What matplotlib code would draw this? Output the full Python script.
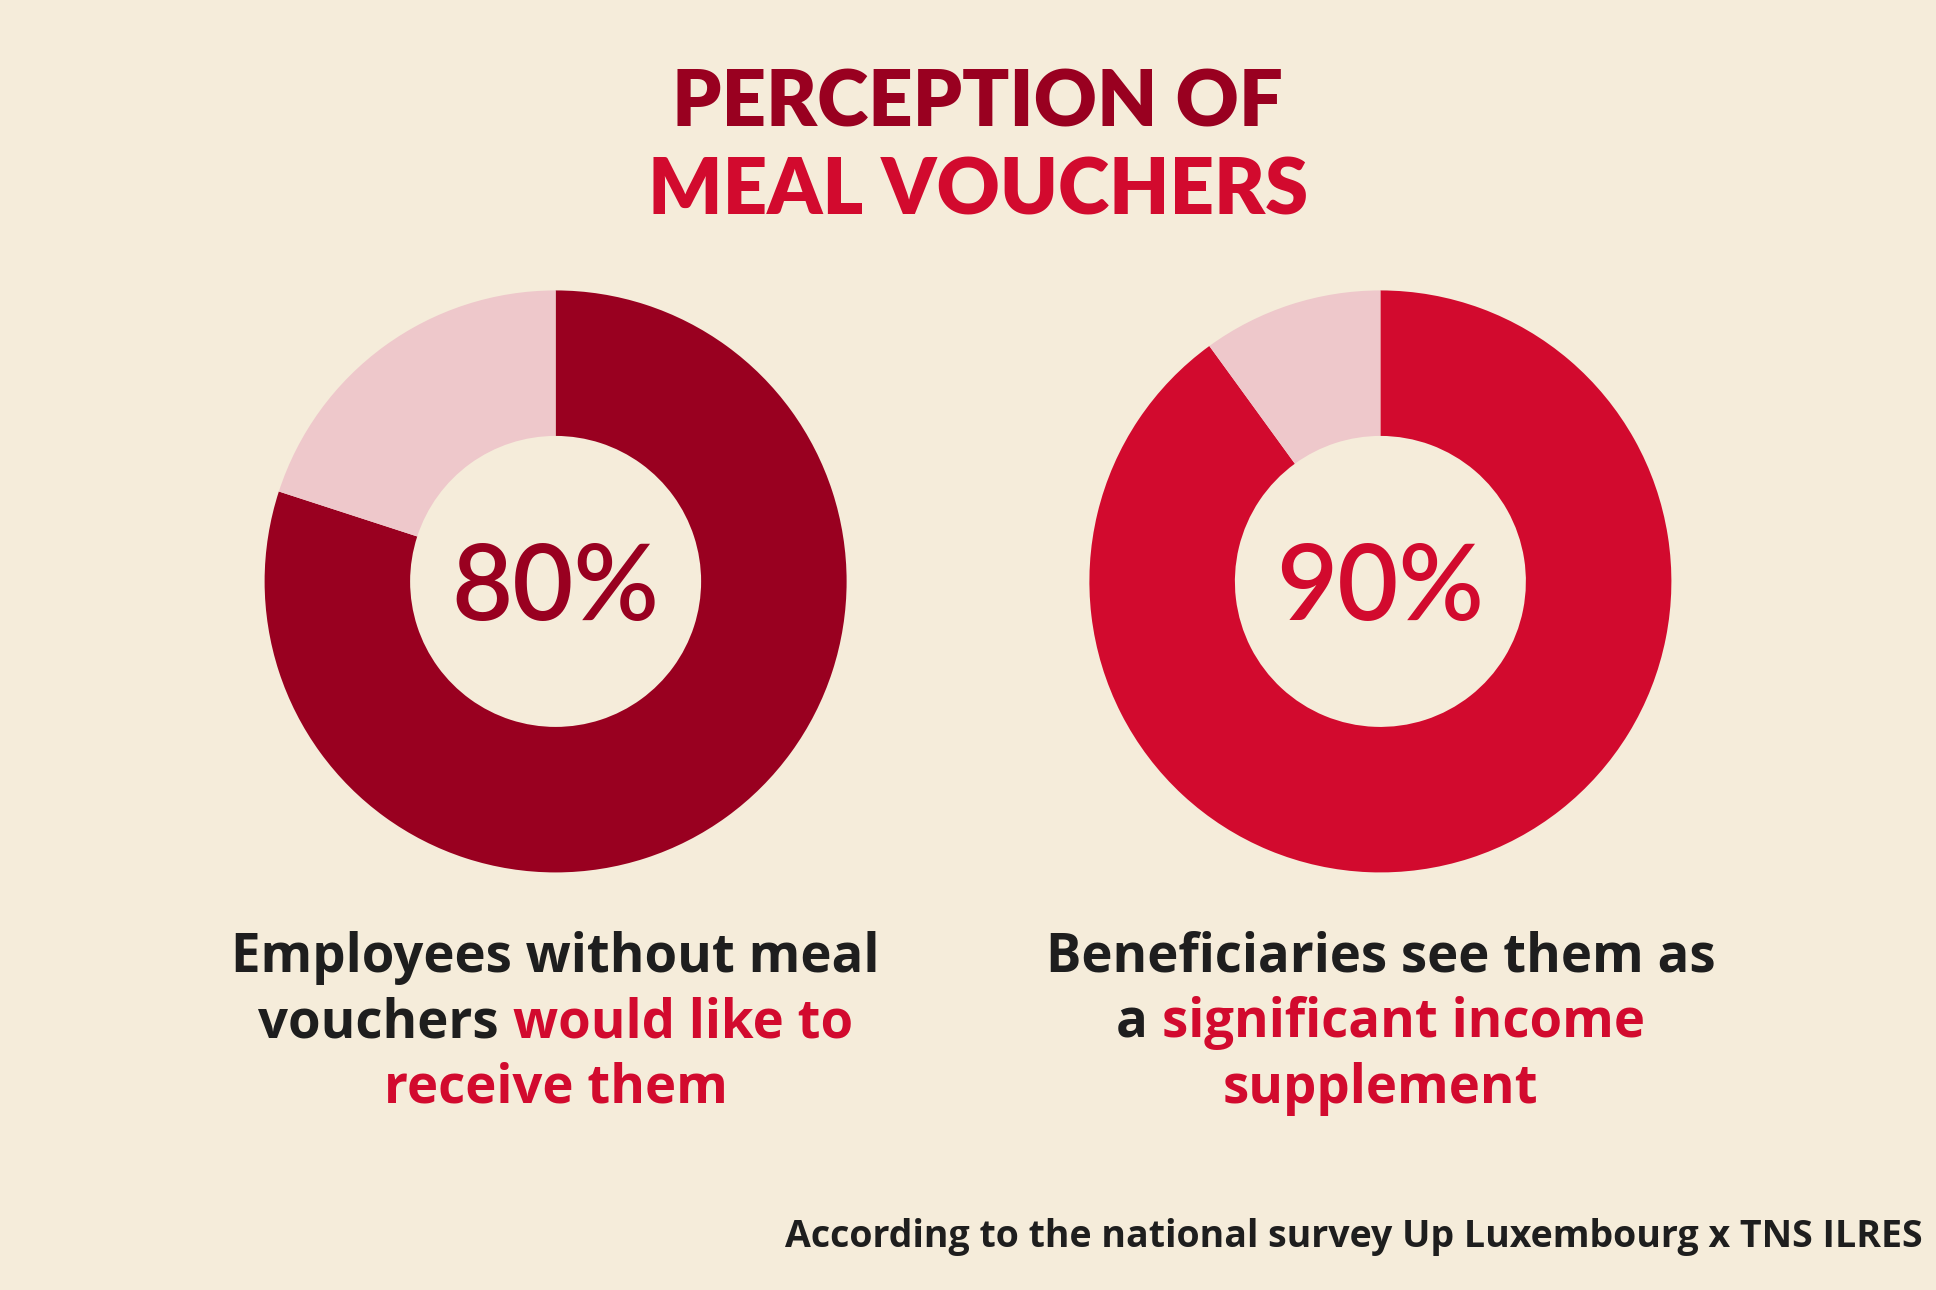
import matplotlib
matplotlib.use("Agg")
import matplotlib.pyplot as plt

BG = "#F5ECDA"
DARK = "#990020"
RED = "#D20A2E"
PINK = "#EEC8CB"
TXT = "#1E1E1E"

values_left = [80, 20]
values_right = [90, 10]
pct_labels = ["80%", "90%"]
title_lines = ["PERCEPTION OF", "MEAL VOUCHERS"]
caption_left = [[("Employees without meal", TXT)],
                [("vouchers ", TXT), ("would like to", RED)],
                [("receive them", RED)]]
caption_right = [[("Beneficiaries see them as", TXT)],
                 [("a ", TXT), ("significant income", RED)],
                 [("supplement", RED)]]
footer = "According to the national survey Up Luxembourg x TNS ILRES"

plt.rcParams['font.family'] = ['Lato', 'DejaVu Sans']
fig = plt.figure(figsize=(19.36, 12.90), dpi=100, facecolor=BG)

fig.text(0.505, 0.919, title_lines[0], ha='center', va='center', fontsize=56,
         fontweight='heavy', color=DARK)
fig.text(0.505, 0.851, title_lines[1], ha='center', va='center', fontsize=56,
         fontweight='heavy', color=RED)

W = 2 * 291 / 1936
H = 2 * 291 / 1290
for cx, vals, col, lab in [(450 / 1568, values_left, DARK, pct_labels[0]),
                           (1118 / 1568, values_right, RED, pct_labels[1])]:
    cy = 1 - 471 / 1045
    ax = fig.add_axes([cx - W / 2, cy - H / 2, W, H])
    ax.pie(vals, colors=[col, PINK], startangle=90, counterclock=False,
           wedgeprops=dict(width=0.5, linewidth=0))
    ax.set_xlim(-1, 1)
    ax.set_ylim(-1, 1)
    ax.set_aspect('equal')
    ax.axis('off')
    ax.text(0, -0.03, lab, ha='center', va='center', fontsize=76, color=col,
            fontweight='semibold', family=['Lato', 'DejaVu Sans'])

fig.canvas.draw()
r = fig.canvas.get_renderer()

def line(xc, y, parts, fs=38):
    ts = [fig.text(0, y, s, color=c, fontsize=fs, fontweight='bold', va='center',
                   family=['Open Sans', 'DejaVu Sans']) for s, c in parts]
    ws = [t.get_window_extent(r).width / fig.bbox.width for t in ts]
    x = xc - sum(ws) / 2
    for t, w in zip(ts, ws):
        t.set_x(x)
        x += w

for xc, cap in [(450 / 1568, caption_left), (1118 / 1568, caption_right)]:
    for i, parts in enumerate(cap):
        line(xc, 1 - (776 + 53 * i) / 1045, parts)

fig.text(0.993, 1 - 1002 / 1045, footer, ha='right', va='center', fontsize=27,
         fontweight='bold', color=TXT, family=['Open Sans', 'DejaVu Sans'])

fig.savefig("out.png", dpi=100, facecolor=BG)
